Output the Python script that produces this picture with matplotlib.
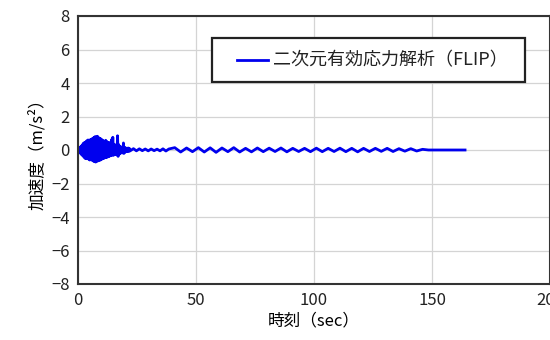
import matplotlib
matplotlib.use("Agg")
import matplotlib.pyplot as plt
from matplotlib.patches import Rectangle
from matplotlib.lines import Line2D
import numpy as np

plt.rcParams['font.family'] = ['Noto Sans CJK JP', 'DejaVu Sans']

# Strong-motion part: peak values every 0.25 s (m/s^2)
t_strong = [i * 0.25 for i in range(89)]
a_strong = [0.0, 0.08, -0.1, 0.15, -0.2, 0.22, -0.28, 0.3, -0.35, 0.4,
            -0.42, 0.45, -0.5, 0.48, -0.52, 0.55, -0.5, 0.6, -0.55, 0.58,
            -0.6, 0.62, -0.58, 0.65, -0.62, 0.7, -0.66, 0.75, -0.7, 0.8,
            -0.72, 0.78, -0.68, 0.82, -0.65, 0.74, -0.62, 0.7, -0.6, 0.66,
            -0.56, 0.6, -0.52, 0.55, -0.5, 0.52, -0.46, 0.58, -0.45, 0.5,
            -0.42, 0.46, -0.4, 0.44, -0.36, 0.4, -0.34, 0.62, -0.3, 0.76,
            -0.32, 0.35, -0.28, 0.3, -0.25, 0.28, -0.3, 0.85, -0.38, 0.32,
            -0.25, 0.22, -0.2, 0.18, -0.16, 0.15, -0.18, 0.42, -0.2, 0.16,
            -0.12, 0.12, -0.1, 0.1, -0.08, 0.12, -0.08, 0.1, -0.06]

# Tail: smaller oscillations, peak values every 1.25 s then 2.5 s
t_tail = [23.5, 24.75, 26.0, 27.25, 28.5, 29.75, 31.0, 32.25, 33.5, 34.75,
          36.0, 37.25, 38.5, 41.0, 43.5, 46.0, 48.5, 51.0, 53.5, 56.0,
          58.5, 61.0, 63.5, 66.0, 68.5, 71.0, 73.5, 76.0, 78.5, 81.0,
          83.5, 86.0, 88.5, 91.0, 93.5, 96.0, 98.5, 101.0, 103.5, 106.0,
          108.5, 111.0, 113.5, 116.0, 118.5, 121.0, 123.5, 126.0, 128.5, 131.0,
          133.5, 136.0, 138.5, 141.0, 143.5, 146.0, 148.5, 164.0]
a_tail = [0.08, -0.05, 0.07, -0.04, 0.06, -0.05, 0.06, -0.04, 0.05, -0.05,
          0.07, -0.06, 0.06, 0.14, -0.12, 0.12, -0.1, 0.14, -0.12, 0.13,
          -0.14, 0.12, -0.1, 0.14, -0.12, 0.1, -0.11, 0.12, -0.1, 0.11,
          -0.09, 0.12, -0.11, 0.1, -0.09, 0.1, -0.1, 0.11, -0.1, 0.1,
          -0.09, 0.11, -0.1, 0.1, -0.11, 0.1, -0.09, 0.1, -0.08, 0.1,
          -0.09, 0.08, -0.07, 0.08, -0.06, 0.04, 0.0, 0.0]

series_label = '二次元有効応力解析（FLIP）'
line_color = '#0000ee'

time = np.array(t_strong + t_tail)
accel = np.array(a_strong + a_tail)

x_ticks = [0, 50, 100, 150, 200]
y_ticks = [8, 6, 4, 2, 0, -2, -4, -6, -8]

fig = plt.figure(figsize=(5.5, 3.4), dpi=100)
ax = fig.add_axes([78 / 550, 1 - 284 / 340, 472 / 550, 268 / 340])

ax.plot(time, accel, color=line_color, lw=2.0, solid_joinstyle='round')

ax.set_xlim(0, 200)
ax.set_ylim(-8, 8)
ax.set_xticks(x_ticks)
ax.set_yticks(y_ticks)
ax.tick_params(length=0, labelsize=12, colors='#222222', pad=6)
ax.grid(True, color='#d4d4d4', lw=0.9)
ax.set_axisbelow(True)
for s in ax.spines.values():
    s.set_color('#333333')
    s.set_linewidth(1.5)

ax.set_xlabel('時刻（sec）', fontsize=12, labelpad=2)
ax.set_ylabel('加速度（m/s²）', fontsize=12, labelpad=4)

# Legend box drawn in axes coordinates
tr = ax.transAxes
ax.add_patch(Rectangle((0.284, 0.754), 0.663, 0.164, transform=tr,
                       facecolor='white', edgecolor='#222222', lw=1.6,
                       zorder=5))
ax.add_line(Line2D([0.337, 0.4025], [0.836, 0.836], transform=tr,
                   color=line_color, lw=2.0, zorder=6))
ax.text(0.413, 0.836, series_label, transform=tr, fontsize=13,
        va='center', ha='left', color='#222222', zorder=6)

fig.savefig('out.png', dpi=100)
